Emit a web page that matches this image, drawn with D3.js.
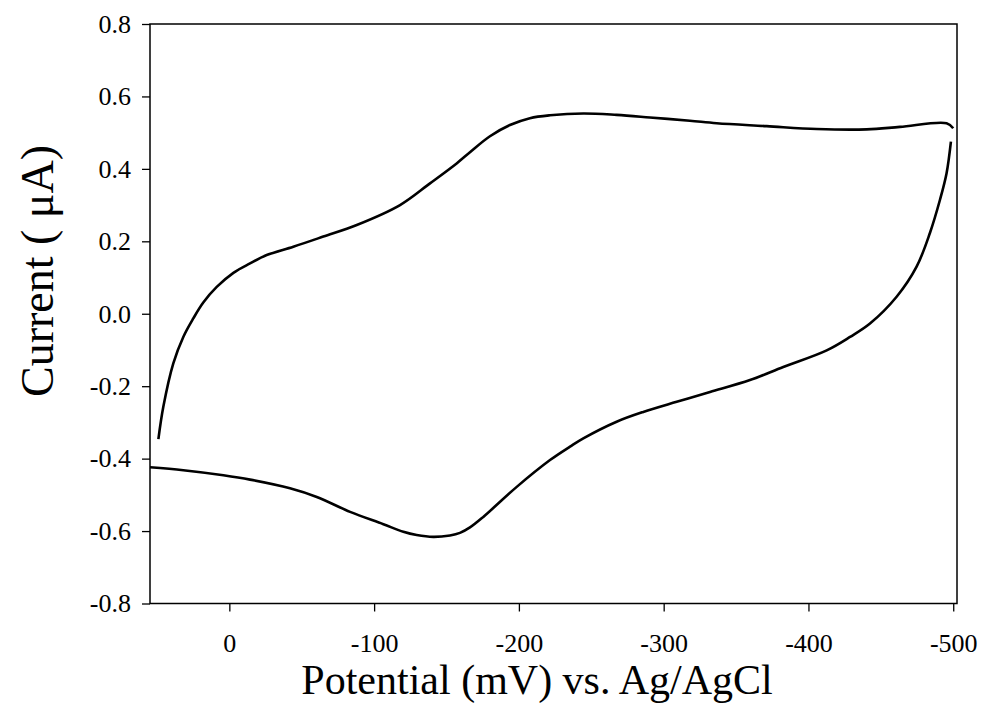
<!DOCTYPE html>
<html>
<head>
<meta charset="utf-8">
<script src="https://cdn.jsdelivr.net/npm/d3@7"></script>
<style>
  body { margin: 0; background: #fff; }
  svg { display: block; font-family: 'Liberation Serif', 'Times New Roman', serif; }
</style>
</head>
<body>
<div id="chart"><svg width="982" height="719"></svg></div>
<script>
// anodic sweep (upper branch), potential in mV, current in uA
const FWD_MV = [49, 45.6, 38.7, 31.8, 24.9, 18, 8.7, -2.8, -14.3, -25.8, -44.2, -64.9, -88, -117.9,
  -138.6, -157, -166.2, -180, -193.8, -207.6, -221.5, -244.5, -267.5, -290.5, -318.1, -336.6,
  -371.1, -405.7, -440.2, -463.2, -495.4, -500];
const FWD_UA = [-0.346, -0.257, -0.137, -0.064, -0.013, 0.031, 0.074, 0.113, 0.139, 0.162, 0.185,
  0.213, 0.245, 0.300, 0.360, 0.415, 0.446, 0.490, 0.521, 0.540, 0.548, 0.553, 0.549, 0.542, 0.533,
  0.526, 0.518, 0.510, 0.509, 0.516, 0.526, 0.512];

// return sweep (lower branch)
const REV_MV = [-498.4, -495.4, -490.8, -483.9, -474.7, -460.9, -442.5, -428.7, -412.6, -382.6,
  -359.6, -332, -309, -285.9, -267.5, -244.5, -235.3, -221.5, -198.5, -175.4, -166.2, -159.3,
  -152.4, -140.9, -129.4, -120.2, -106.4, -83.4, -60.4, -41.9, -14.3, 4.1, 31.8, 54.8];
const REV_UA = [0.475, 0.388, 0.314, 0.223, 0.130, 0.047, -0.027, -0.064, -0.101, -0.147, -0.183,
  -0.216, -0.243, -0.271, -0.298, -0.344, -0.367, -0.404, -0.478, -0.561, -0.590, -0.605, -0.612,
  -0.616, -0.611, -0.602, -0.581, -0.547, -0.506, -0.482, -0.458, -0.446, -0.432, -0.424];

const X_TICKS = [0, -100, -200, -300, -400, -500];
const Y_TICKS = [0.8, 0.6, 0.4, 0.2, 0.0, -0.2, -0.4, -0.6, -0.8];

const SVG = d3.select('#chart svg');
const LEFT = 150, RIGHT = 957, TOP = 24, BOTTOM = 603.5;

const X_SCALE = d3.scaleLinear()
  .domain([54.8, -502.6])
  .range([LEFT, RIGHT]);

const Y_SCALE = d3.scaleLinear()
  .domain([-0.8, 0.8])
  .range([BOTTOM, TOP]);

// plain hyphen instead of unicode minus, like the original
const hyphen = f => d => f(d).replace('\u2212', '-');

// frame
SVG.append('rect')
  .attr('x', LEFT)
  .attr('y', TOP)
  .attr('width', RIGHT - LEFT)
  .attr('height', BOTTOM - TOP)
  .style('fill', 'none')
  .style('stroke', '#000')
  .style('stroke-width', 1.5);

const X_AXIS = d3.axisBottom(X_SCALE)
  .tickValues(X_TICKS)
  .tickFormat(hyphen(d3.format('d')))
  .tickSizeInner(8)
  .tickSizeOuter(0)
  .tickPadding(22);
const X_AXIS_G = SVG.append('g')
  .attr('id', 'xAxis')
  .attr('transform', `translate(0,${BOTTOM})`);
X_AXIS(X_AXIS_G);

const Y_AXIS = d3.axisLeft(Y_SCALE)
  .tickValues(Y_TICKS)
  .tickFormat(hyphen(d3.format('.1f')))
  .tickSizeInner(8)
  .tickSizeOuter(0)
  .tickPadding(11);
const Y_AXIS_G = SVG.append('g')
  .attr('id', 'yAxis')
  .attr('transform', `translate(${LEFT},0)`);
Y_AXIS(Y_AXIS_G);

SVG.selectAll('#xAxis, #yAxis')
  .attr('font-family', "'Liberation Serif', serif")
  .attr('font-size', 26);
SVG.selectAll('#xAxis text, #yAxis text')
  .style('fill', '#000');
SVG.selectAll('#xAxis .domain, #yAxis .domain').remove();
SVG.selectAll('#xAxis line, #yAxis line')
  .style('stroke', '#000')
  .style('stroke-width', 1.3);

const LINE = d3.line()
  .x(d => X_SCALE(d[0]))
  .y(d => Y_SCALE(d[1]))
  .curve(d3.curveCatmullRom);

const BRANCHES = [
  d3.zip(FWD_MV, FWD_UA),
  d3.zip(REV_MV, REV_UA)
];

SVG.append('g')
  .attr('id', 'cv')
  .selectAll('path')
  .data(BRANCHES)
  .join('path')
  .attr('d', LINE)
  .style('fill', 'none')
  .style('stroke', '#000')
  .style('stroke-width', 2.6)
  .style('stroke-linejoin', 'round');

SVG.append('text')
  .attr('x', 537)
  .attr('y', 694)
  .attr('text-anchor', 'middle')
  .style('font-size', '42px')
  .text('Potential (mV) vs. Ag/AgCl');

SVG.append('text')
  .attr('transform', 'translate(53,271) rotate(-90)')
  .attr('text-anchor', 'middle')
  .style('font-size', '46px')
  .text('Current ( μA)');
</script>
</body>
</html>
